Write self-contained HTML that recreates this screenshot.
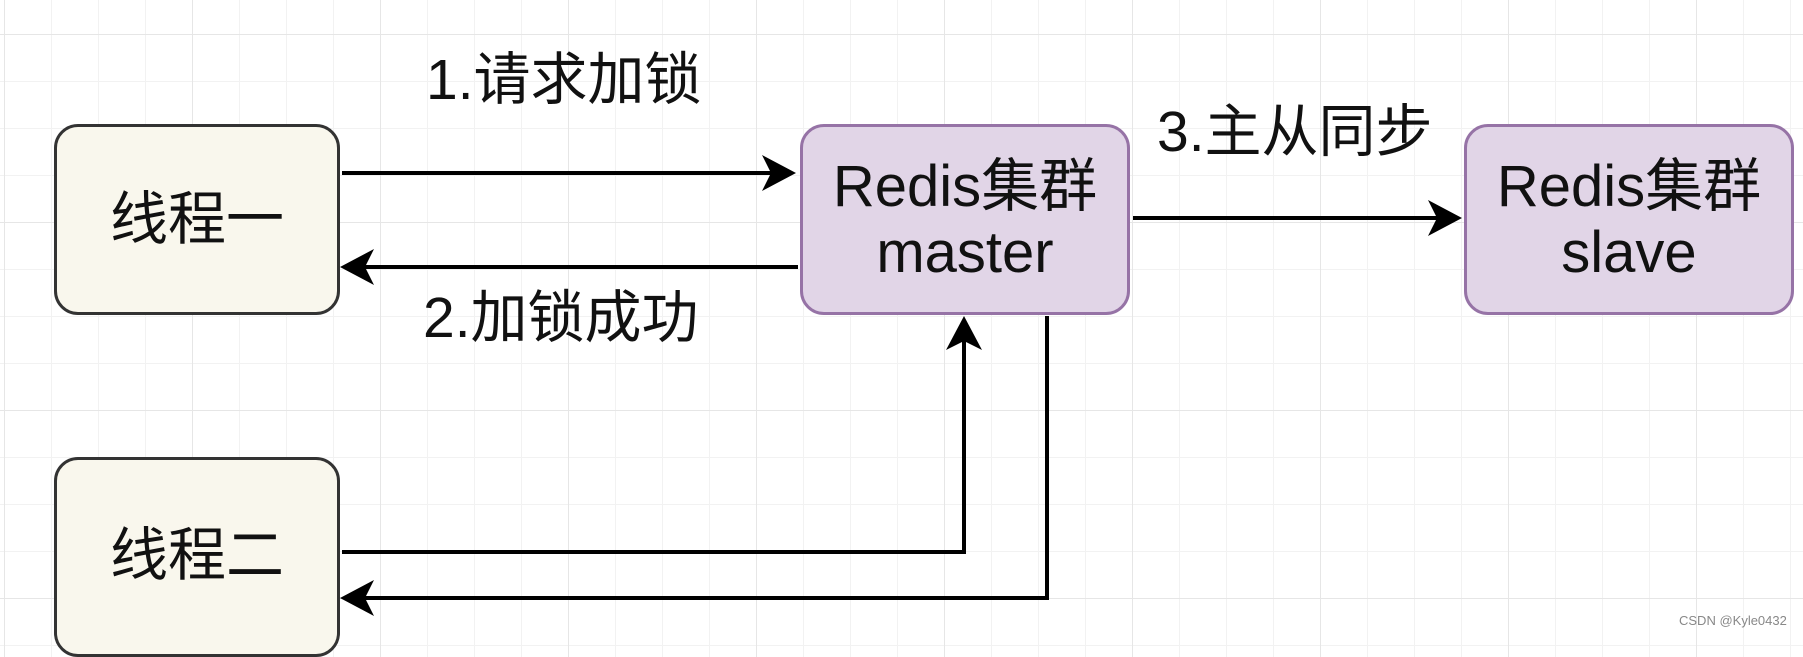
<!DOCTYPE html>
<html><head><meta charset="utf-8"><style>
body{margin:0;width:1803px;height:637px;overflow:hidden;background:#fff;
background-image:linear-gradient(#e6e6e6 1px,transparent 1px),linear-gradient(90deg,#e6e6e6 1px,transparent 1px),linear-gradient(#f2f2f2 1px,transparent 1px),linear-gradient(90deg,#f2f2f2 1px,transparent 1px);
background-size:188px 188px,188px 188px,47px 47px,47px 47px;
background-position:0 34px,4px 0,0 34px,4px 0;
font-family:"Liberation Sans","Noto Sans CJK SC",sans-serif;position:relative}
.b{position:absolute;box-sizing:border-box;border-radius:24px;display:flex;align-items:center;justify-content:center;text-align:center;font-size:58px;line-height:66px;color:#111}
.t{background:#f9f7ed;border:3px solid #333}
.m{background:#e1d5e7;border:3px solid #9673a6}
.l{position:absolute;font-size:57px;line-height:66px;color:#111;white-space:nowrap}
</style></head><body>
<svg width="1803" height="637" style="position:absolute;left:0;top:0">
<g stroke="#000" stroke-width="4" fill="none">
<line x1="342" y1="173" x2="790" y2="173"/>
<path d="M796,173 l-34,-18 l9,18 l-9,18z" fill="#000" stroke="none"/>
<line x1="798" y1="267" x2="346" y2="267"/>
<path d="M340,267 l34,-18 l-9,18 l9,18z" fill="#000" stroke="none"/>
<line x1="1133" y1="218" x2="1455" y2="218"/>
<path d="M1462,218 l-34,-18 l9,18 l-9,18z" fill="#000" stroke="none"/>
<polyline points="342,552 964,552 964,322"/>
<path d="M964,316 l-18,34 l18,-9 l18,9z" fill="#000" stroke="none"/>
<polyline points="1047,316 1047,598 346,598"/>
<path d="M340,598 l34,-18 l-9,18 l9,18z" fill="#000" stroke="none"/>
</g></svg>
<div class="b t" style="left:54px;top:124px;width:286px;height:191px">线程一</div>
<div class="b t" style="left:54px;top:457px;width:286px;height:200px;align-items:flex-start;padding-top:63px">线程二</div>
<div class="b m" style="left:800px;top:124px;width:330px;height:191px">Redis集群<br>master</div>
<div class="b m" style="left:1464px;top:124px;width:330px;height:191px">Redis集群<br>slave</div>
<div class="l" style="left:426px;top:47px">1.请求加锁</div>
<div class="l" style="left:423px;top:285px">2.加锁成功</div>
<div class="l" style="left:1157px;top:99px">3.主从同步</div>
<div style="position:absolute;left:1679px;top:613px;font-size:13px;color:#888">CSDN @Kyle0432</div>
</body></html>
